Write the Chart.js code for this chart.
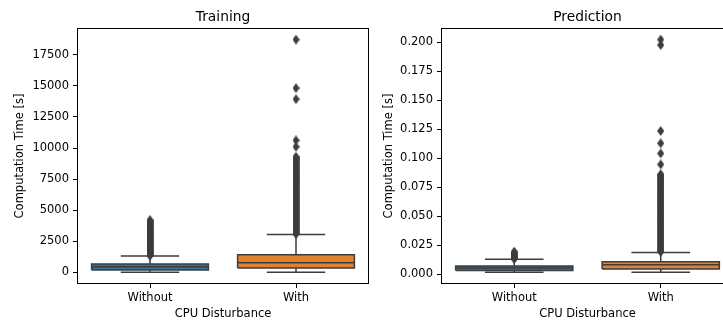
<!DOCTYPE html>
<html>
<head>
<meta charset="utf-8">
<script src="https://cdn.jsdelivr.net/npm/chart.js@4.4.0/dist/chart.umd.min.js"></script>
<style>
  body { margin: 0; background: #fff; overflow: hidden; width: 723px; height: 322px; }
  canvas { position: absolute; top: 0; }
  #train { left: 0; }
  #pred { left: 372px; }
</style>
</head>
<body>
<canvas id="train" width="372" height="322"></canvas>
<canvas id="pred" width="368" height="322"></canvas>
<script>
// categories on the x axis
var categories = ['Without', 'With'];

// Training: box stats per category
var trainQ1 = [195, 355];
var trainMedian = [460, 785];
var trainQ3 = [680, 1430];
var trainLow = [5, 5];
var trainHigh = [1325, 3045];
var trainOutWithout = [1350, 1420, 1500, 1580, 1650, 1730, 1800, 1880, 1950, 2030, 2100, 2180, 2260, 2330,
  2410, 2490, 2560, 2640, 2720, 2800, 2880, 2950, 3030, 3110, 3190, 3270, 3350, 3440, 3520, 3600, 3690,
  3770, 3850, 3940, 4030, 4120, 4200];
var trainOutWith = [3080, 3180, 3270, 3370, 3460, 3560, 3650, 3750, 3850, 3940, 4040, 4130, 4230, 4330,
  4420, 4520, 4610, 4710, 4800, 4900, 5000, 5090, 5190, 5280, 5380, 5470, 5570, 5670, 5760, 5860, 5950,
  6050, 6140, 6240, 6340, 6430, 6530, 6620, 6720, 6810, 6910, 7010, 7100, 7200, 7290, 7390, 7480, 7580,
  7680, 7770, 7870, 7960, 8060, 8150, 8250, 8350, 8440, 8540, 8630, 8730, 8820, 8920, 9020, 9110, 9200,
  9300, 10100, 10620, 13930, 14820, 18720];
var trainTicks = [0, 2500, 5000, 7500, 10000, 12500, 15000, 17500];

// Prediction: box stats per category
var predQ1 = [0.0032, 0.0043];
var predMedian = [0.0053, 0.0080];
var predQ3 = [0.0070, 0.0107];
var predLow = [0.0015, 0.0015];
var predHigh = [0.0128, 0.0186];
var predOutWithout = [0.0130, 0.0137, 0.0144, 0.0151, 0.0158, 0.0165, 0.0172, 0.0179, 0.0186, 0.0193];
var predOutWith = [0.0192, 0.0201, 0.0211, 0.0220, 0.0230, 0.0240, 0.0249, 0.0259, 0.0268, 0.0278,
  0.0288, 0.0297, 0.0307, 0.0316, 0.0326, 0.0336, 0.0345, 0.0355, 0.0364, 0.0374, 0.0384, 0.0393,
  0.0403, 0.0412, 0.0422, 0.0432, 0.0441, 0.0451, 0.0460, 0.0470, 0.0480, 0.0489, 0.0499, 0.0508,
  0.0518, 0.0528, 0.0537, 0.0547, 0.0556, 0.0566, 0.0576, 0.0585, 0.0595, 0.0604, 0.0614, 0.0624,
  0.0633, 0.0643, 0.0652, 0.0662, 0.0672, 0.0681, 0.0691, 0.0700, 0.0710, 0.0720, 0.0729, 0.0739,
  0.0748, 0.0758, 0.0768, 0.0777, 0.0787, 0.0796, 0.0806, 0.0816, 0.0825, 0.0835, 0.0844, 0.0854,
  0.0860, 0.0946, 0.1040, 0.1128, 0.1234, 0.1975, 0.2022];
var predTicks = [0, 0.025, 0.05, 0.075, 0.1, 0.125, 0.15, 0.175, 0.2];

var boxColors = ['#3274a1', '#e1812c'];
var gray = '#3d3d3d';
var font = 'DejaVu Sans';

// thin diamond flier marker
var diamond = document.createElement('canvas');
diamond.width = 7; diamond.height = 10;
var dctx = diamond.getContext('2d');
dctx.fillStyle = gray;
dctx.beginPath();
dctx.moveTo(3.5, 0); dctx.lineTo(7, 5); dctx.lineTo(3.5, 10); dctx.lineTo(0, 5);
dctx.closePath(); dctx.fill();

function buildDatasets(q1, med, q3, lo, hi, outs) {
  var ds = [];
  for (var i = 0; i < categories.length; i++) {
    // whiskers + caps
    ds.push({
      type: 'line', order: 3,
      data: [
        {x: i, y: q1[i]}, {x: i, y: lo[i]}, {x: i, y: null},
        {x: i - 0.2, y: lo[i]}, {x: i + 0.2, y: lo[i]}, {x: i, y: null},
        {x: i, y: q3[i]}, {x: i, y: hi[i]}, {x: i, y: null},
        {x: i - 0.2, y: hi[i]}, {x: i + 0.2, y: hi[i]}
      ],
      borderColor: gray, borderWidth: 1.5, pointRadius: 0, spanGaps: false, fill: false
    });
    // box
    ds.push({
      type: 'line', order: 2,
      data: [
        {x: i - 0.4, y: q1[i]}, {x: i + 0.4, y: q1[i]}, {x: i + 0.4, y: q3[i]},
        {x: i - 0.4, y: q3[i]}, {x: i - 0.4, y: q1[i]}
      ],
      borderColor: gray, borderWidth: 1.5, backgroundColor: boxColors[i],
      fill: 'shape', pointRadius: 0
    });
    // median
    ds.push({
      type: 'line', order: 1,
      data: [{x: i - 0.4, y: med[i]}, {x: i + 0.4, y: med[i]}],
      borderColor: gray, borderWidth: 1.5, pointRadius: 0, fill: false
    });
    // fliers
    ds.push({
      type: 'line', order: 0, showLine: false,
      data: outs[i].map(function (v) { return {x: i, y: v}; }),
      pointStyle: diamond, pointRadius: 4, fill: false
    });
  }
  return ds;
}

var spines = {
  id: 'spines',
  afterDraw: function (chart) {
    var a = chart.chartArea, c = chart.ctx;
    c.save();
    c.strokeStyle = '#000';
    c.lineWidth = 1;
    c.strokeRect(Math.round(a.left) + 0.5, Math.round(a.top) + 0.5,
      Math.round(a.right - a.left) - 1, Math.round(a.bottom - a.top) - 1);
    c.restore();
  }
};

function makeChart(id, title, datasets, yTicks, yFmt, allVals, yWidth, yTitlePad, padRight) {
  var mn = Math.min.apply(null, allVals), mx = Math.max.apply(null, allVals);
  var m = (mx - mn) * 0.05;
  return new Chart(document.getElementById(id), {
    data: {datasets: datasets},
    plugins: [spines],
    options: {
      responsive: false,
      animation: false,
      layout: {autoPadding: false, padding: {left: 0, right: padRight, top: 0, bottom: 0}},
      plugins: {
        legend: {display: false},
        tooltip: {enabled: false},
        title: {
          display: true, text: title, fullSize: false, color: '#000',
          font: {family: font, size: 13.8, weight: 'normal'},
          padding: {top: 9.5, bottom: 1.9}
        }
      },
      scales: {
        x: {
          type: 'linear', min: -0.5, max: 1.5,
          afterBuildTicks: function (s) { s.ticks = categories.map(function (c, i) { return {value: i}; }); },
          afterFit: function (s) { s.height = 38; },
          ticks: {
            color: '#000', padding: 3, font: {family: font, size: 11.5},
            callback: function (v) { return categories[v]; }
          },
          grid: {drawOnChartArea: false, drawTicks: true, tickLength: 4, tickColor: '#000'},
          border: {display: false},
          title: {display: true, text: 'CPU Disturbance', color: '#000',
            font: {family: font, size: 11.5}, padding: {top: 0, bottom: 1.5}}
        },
        y: {
          type: 'linear', min: mn - m, max: mx + m,
          afterBuildTicks: function (s) { s.ticks = yTicks.map(function (v) { return {value: v}; }); },
          afterFit: function (s) { s.width = yWidth; },
          ticks: {
            color: '#000', padding: 4, font: {family: font, size: 11.5},
            callback: yFmt
          },
          grid: {drawOnChartArea: false, drawTicks: true, tickLength: 4, tickColor: '#000'},
          border: {display: false},
          title: {display: true, text: 'Computation Time [s]', color: '#000',
            font: {family: font, size: 11.5}, padding: {top: yTitlePad, bottom: 0}}
        }
      }
    }
  });
}

var trainAll = [].concat(trainLow, trainHigh, trainOutWithout, trainOutWith);
var predAll = [].concat(predLow, predHigh, predOutWithout, predOutWith);

makeChart('train', 'Training',
  buildDatasets(trainQ1, trainMedian, trainQ3, trainLow, trainHigh, [trainOutWithout, trainOutWith]),
  trainTicks, function (v) { return String(v); }, trainAll, 77, 13, 3);

makeChart('pred', 'Prediction',
  buildDatasets(predQ1, predMedian, predQ3, predLow, predHigh, [predOutWithout, predOutWith]),
  predTicks, function (v) { return v.toFixed(3); }, predAll, 69, 9.8, 6);
</script>
</body>
</html>
